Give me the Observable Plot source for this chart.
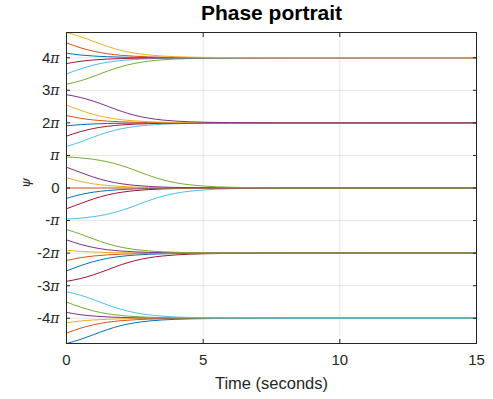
<!DOCTYPE html>
<html>
<head>
<meta charset="utf-8">
<script src="https://cdn.jsdelivr.net/npm/d3@7"></script>
<script src="https://cdn.jsdelivr.net/npm/@observablehq/plot@0.6"></script>
<style>
  html, body { margin: 0; padding: 0; background: #fff; }
  #chart { width: 493px; height: 399px; }
</style>
</head>
<body>
<div id="chart"></div>
<script>
// ---- data ----
const time = [0, 0.5, 1, 1.5, 2, 2.5, 3, 3.5, 4, 5, 6, 8, 15];

// psi(t) for each trajectory, starting values -15 ... 15 rad
const psiM15 = [-15, -14.614, -14.133, -13.653, -13.268, -13.004, -12.834, -12.729, -12.665, -12.603, -12.579, -12.568, -12.566];
const psiM14 = [-14, -13.539, -13.187, -12.950, -12.801, -12.709, -12.653, -12.619, -12.598, -12.578, -12.570, -12.567, -12.566];
const psiM13 = [-13, -12.832, -12.728, -12.664, -12.626, -12.602, -12.588, -12.579, -12.574, -12.569, -12.567, -12.566, -12.566];
const psiM12 = [-12, -12.217, -12.353, -12.436, -12.487, -12.518, -12.537, -12.548, -12.555, -12.562, -12.565, -12.566, -12.566];
const psiM11 = [-11, -11.480, -11.864, -12.129, -12.298, -12.403, -12.467, -12.506, -12.529, -12.553, -12.561, -12.565, -12.566];
const psiM10 = [-10, -10.333, -10.779, -11.274, -11.708, -12.025, -12.233, -12.363, -12.442, -12.520, -12.549, -12.564, -12.566];
const psiM9  = [-9, -8.742, -8.365, -7.888, -7.404, -7.011, -6.737, -6.561, -6.453, -6.346, -6.306, -6.286, -6.283];
const psiM8  = [-8, -7.508, -7.089, -6.789, -6.594, -6.473, -6.398, -6.353, -6.325, -6.299, -6.289, -6.284, -6.283];
const psiM7  = [-7, -6.730, -6.557, -6.450, -6.384, -6.345, -6.320, -6.306, -6.297, -6.288, -6.285, -6.283, -6.283];
const psiM6  = [-6, -6.111, -6.178, -6.219, -6.244, -6.260, -6.269, -6.274, -6.278, -6.281, -6.282, -6.283, -6.283];
const psiM5  = [-5, -5.432, -5.747, -5.953, -6.081, -6.160, -6.209, -6.238, -6.256, -6.273, -6.279, -6.282, -6.283];
const psiM4  = [-4, -4.435, -4.929, -5.376, -5.708, -5.928, -6.066, -6.151, -6.203, -6.254, -6.272, -6.281, -6.283];
const psiM3  = [-3, -2.909, -2.761, -2.526, -2.176, -1.716, -1.224, -0.805, -0.506, -0.190, -0.070, -0.009, 0];
const psiM2  = [-2, -1.514, -1.041, -0.669, -0.415, -0.254, -0.155, -0.094, -0.057, -0.021, -0.008, -0.001, 0];
const psiM1  = [-1, -0.640, -0.397, -0.243, -0.148, -0.090, -0.054, -0.033, -0.020, -0.007, -0.003, 0, 0];
const psi0   = [0, 0, 0, 0, 0, 0, 0, 0, 0, 0, 0, 0, 0];
const psiP1  = [1, 0.640, 0.397, 0.243, 0.148, 0.090, 0.054, 0.033, 0.020, 0.007, 0.003, 0, 0];
const psiP2  = [2, 1.514, 1.041, 0.669, 0.415, 0.254, 0.155, 0.094, 0.057, 0.021, 0.008, 0.001, 0];
const psiP3  = [3, 2.909, 2.761, 2.526, 2.176, 1.716, 1.224, 0.805, 0.506, 0.190, 0.070, 0.009, 0];
const psiP4  = [4, 4.435, 4.929, 5.376, 5.708, 5.928, 6.066, 6.151, 6.203, 6.254, 6.272, 6.281, 6.283];
const psiP5  = [5, 5.432, 5.747, 5.953, 6.081, 6.160, 6.209, 6.238, 6.256, 6.273, 6.279, 6.282, 6.283];
const psiP6  = [6, 6.111, 6.178, 6.219, 6.244, 6.260, 6.269, 6.274, 6.278, 6.281, 6.282, 6.283, 6.283];
const psiP7  = [7, 6.730, 6.557, 6.450, 6.384, 6.345, 6.320, 6.306, 6.297, 6.288, 6.285, 6.283, 6.283];
const psiP8  = [8, 7.508, 7.089, 6.789, 6.594, 6.473, 6.398, 6.353, 6.325, 6.299, 6.289, 6.284, 6.283];
const psiP9  = [9, 8.742, 8.365, 7.888, 7.404, 7.011, 6.737, 6.561, 6.453, 6.346, 6.306, 6.286, 6.283];
const psiP10 = [10, 10.333, 10.779, 11.274, 11.708, 12.025, 12.233, 12.363, 12.442, 12.520, 12.549, 12.564, 12.566];
const psiP11 = [11, 11.480, 11.864, 12.129, 12.298, 12.403, 12.467, 12.506, 12.529, 12.553, 12.561, 12.565, 12.566];
const psiP12 = [12, 12.217, 12.353, 12.436, 12.487, 12.518, 12.537, 12.548, 12.555, 12.562, 12.565, 12.566, 12.566];
const psiP13 = [13, 12.832, 12.728, 12.664, 12.626, 12.602, 12.588, 12.579, 12.574, 12.569, 12.567, 12.566, 12.566];
const psiP14 = [14, 13.539, 13.187, 12.950, 12.801, 12.709, 12.653, 12.619, 12.598, 12.578, 12.570, 12.567, 12.566];
const psiP15 = [15, 14.614, 14.133, 13.653, 13.268, 13.004, 12.834, 12.729, 12.665, 12.603, 12.579, 12.568, 12.566];

const trajectories = [psiM15, psiM14, psiM13, psiM12, psiM11, psiM10, psiM9, psiM8, psiM7, psiM6,
  psiM5, psiM4, psiM3, psiM2, psiM1, psi0, psiP1, psiP2, psiP3, psiP4, psiP5, psiP6, psiP7,
  psiP8, psiP9, psiP10, psiP11, psiP12, psiP13, psiP14, psiP15];

const lineColors = ["#0072BD", "#D95319", "#EDB120", "#7E2F8E", "#77AC30", "#4DBEEE", "#A2142F"];

const xTicks = [0, 5, 10, 15];
const yTickMultiples = [-4, -3, -2, -1, 0, 1, 2, 3, 4];
const yTickLabels = ["-4π", "-3π", "-2π", "-π", "0", "π", "2π", "3π", "4π"];

const titleText = "Phase portrait";
const xLabelText = "Time (seconds)";
const yLabelText = "ψ";

// ---- build table ----
const rows = [];
trajectories.forEach((series, i) => {
  series.forEach((v, j) => rows.push({t: time[j], psi: v, id: i, color: lineColors[i % lineColors.length]}));
});
const yTicks = yTickMultiples.map(k => k * Math.PI);
const yLabelOf = new Map(yTicks.map((v, i) => [v, yTickLabels[i]]));

const ink = "#262626";
const font = "'Liberation Sans', Arial, Helvetica, sans-serif";

const chart = Plot.plot({
  width: 493,
  height: 399,
  marginLeft: 66,
  marginRight: 17,
  marginTop: 32,
  marginBottom: 56,
  style: {fontFamily: font, color: ink, background: "#fff"},
  x: {domain: [0, 15]},
  y: {domain: [-15, 15]},
  marks: [
    Plot.gridX(xTicks, {stroke: "#000", strokeOpacity: 0.1}),
    Plot.gridY(yTicks, {stroke: "#000", strokeOpacity: 0.1}),
    Plot.line(rows, {x: "t", y: "psi", z: "id", stroke: "color", strokeWidth: 1, curve: "monotone-x"}),
    Plot.frame({stroke: ink, strokeWidth: 1}),
    // inward tick marks on all four sides
    Plot.axisX(xTicks, {anchor: "bottom", tickSize: -4, tickFormat: () => "", label: null, stroke: ink}),
    Plot.axisX(xTicks, {anchor: "top", tickSize: -4, tickFormat: () => "", label: null, stroke: ink}),
    Plot.axisY(yTicks, {anchor: "left", tickSize: -4, tickFormat: () => "", label: null, stroke: ink}),
    Plot.axisY(yTicks, {anchor: "right", tickSize: -4, tickFormat: () => "", label: null, stroke: ink}),
    // tick labels
    Plot.axisX(xTicks, {anchor: "bottom", tickSize: 0, tickPadding: 11, fontSize: 15, label: null, fill: ink, tickFormat: d => String(d)}),
    Plot.axisY(yTicks, {anchor: "left", tickSize: 0, tickPadding: 7, fontSize: 15, label: null, fill: ink, tickFormat: d => yLabelOf.get(d)}),
    // title and axis labels
    Plot.text([titleText], {frameAnchor: "top", dy: -19, lineAnchor: "middle", fontSize: 21, fontWeight: "bold", fill: "#000"}),
    Plot.text([xLabelText], {frameAnchor: "bottom", dy: 40, lineAnchor: "middle", fontSize: 16.5, fill: ink}),
    Plot.text([yLabelText], {frameAnchor: "left", dx: -41, rotate: -90, fontSize: 13, fontStyle: "italic", fontFamily: "'DejaVu Serif', serif", fill: ink})
  ]
});

// italic π in the y tick labels (TeX style)
d3.select(chart).selectAll("text").each(function () {
  const s = this.textContent;
  if (s.includes("π") && s.length <= 3) {
    const pre = s.replace("π", "");
    const el = d3.select(this);
    el.text(null);
    if (pre) el.append("tspan").text(pre);
    el.append("tspan").attr("font-style", "italic").attr("font-family", "'DejaVu Serif', serif").attr("font-size", 14).text("π");
  }
});

document.getElementById("chart").appendChild(chart);
</script>
</body>
</html>
